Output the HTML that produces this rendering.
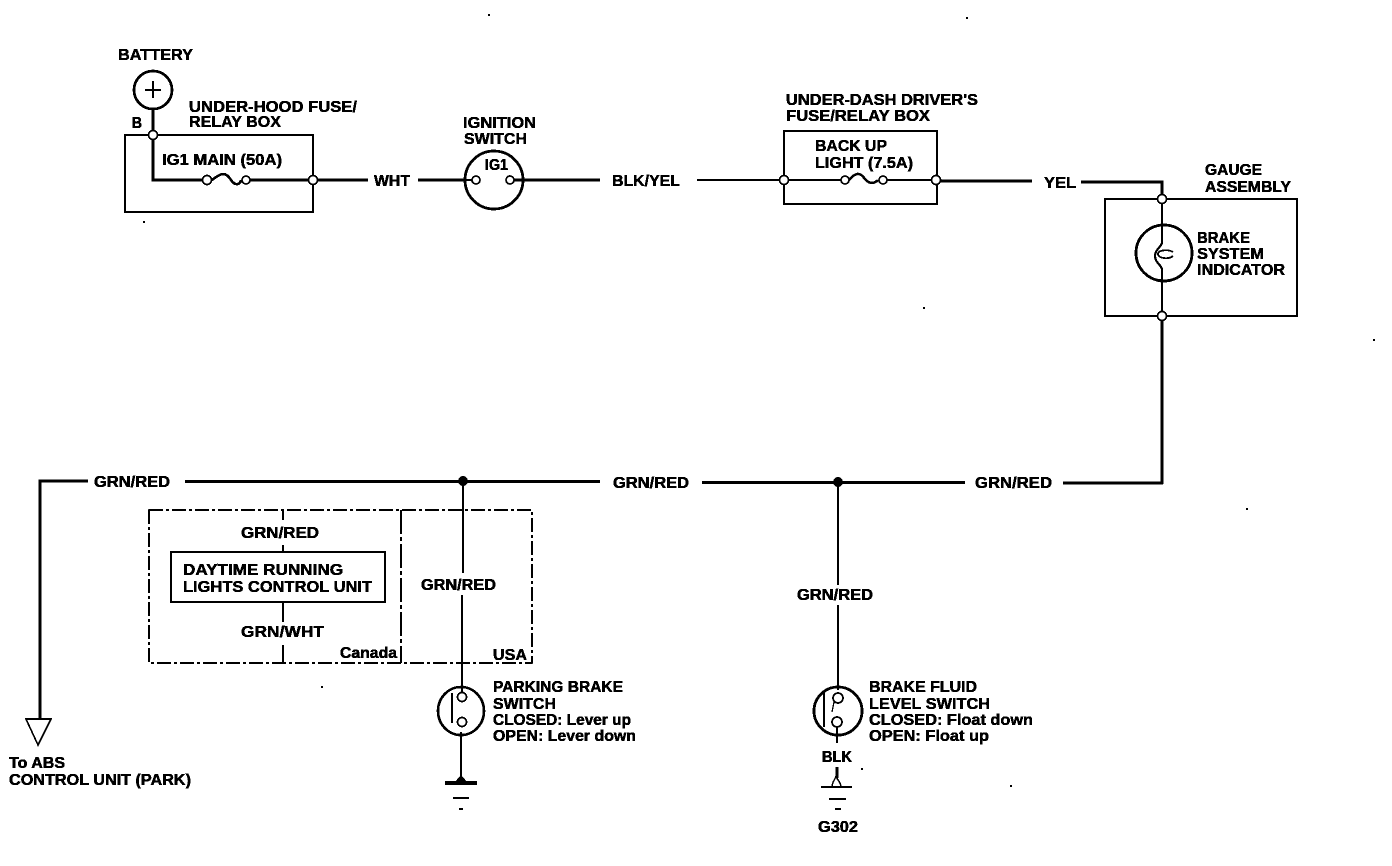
<!DOCTYPE html>
<html><head><meta charset="utf-8">
<style>
html,body{margin:0;padding:0;background:#fff;width:1392px;height:866px;overflow:hidden}
svg{display:block}
text{font-family:"Liberation Sans",sans-serif;font-weight:bold;font-size:16px;fill:#000;stroke:#000;stroke-width:.5px}
</style></head><body>
<svg width="1392" height="866" viewBox="0 0 1392 866" xmlns="http://www.w3.org/2000/svg">
<defs><filter id="t" x="0" y="0" width="1392" height="866" filterUnits="userSpaceOnUse" color-interpolation-filters="sRGB">
<feComponentTransfer><feFuncA type="discrete" tableValues="0 0 1 1"/></feComponentTransfer></filter></defs>
<rect width="1392" height="866" fill="#fff"/>
<g filter="url(#t)">
<g fill="none" stroke="#000" stroke-width="2">
<!-- battery -->
<circle cx="153" cy="90" r="19" stroke-width="2.8"/>
<path d="M153 81V98M145 90H161" stroke-width="1.6"/>
<path d="M153 109V180H205" stroke-width="2.8"/>
<path d="M149 135H125V212H313V135H157" stroke-width="1.8"/>
<path d="M249 180H368M418 180H466" stroke-width="2.8"/>
<path d="M212 180C222 172 226 172 231 180C235 186 240 185 241 180" stroke-width="2.6"/>
<!-- ignition -->
<circle cx="494" cy="180" r="29" stroke-width="2.8"/>
<path d="M513 180H600" stroke-width="3"/>
<path d="M466 180H473" stroke-width="2.4"/>
<!-- under dash -->
<rect x="784" y="131" width="153" height="73" stroke-width="1.8"/>
<path d="M697 180H780M788 180H842M886 180H932" stroke-width="1.8"/>
<path d="M849 180C856 172 860 172 865 179C869 184 874 184 878 180" stroke-width="2.6"/>
<path d="M940 181H1032M1081 182H1162V195" stroke-width="3"/>
<!-- gauge -->
<rect x="1105" y="199" width="192" height="117" stroke-width="1.8"/>
<circle cx="1164" cy="253" r="28" stroke-width="2.8"/>
<path d="M1162 203V242C1162 247 1155 249 1155 256C1155 263 1162 265 1162 270V312" stroke-width="2.2"/>
<path d="M1173 252C1168 249 1158 250 1158 254C1158 258 1168 260 1173 256" stroke-width="1.8"/>
<path d="M1162 320V483H1063" stroke-width="2.6"/>
<!-- main line -->
<path d="M965 482.500H702M600 481.500H185" stroke-width="2.8"/>
<path d="M88 481H40V718" stroke-width="2.8"/>
<path d="M26 719H51L38 745Z" stroke-width="1.6"/>
<!-- options -->
<path d="M149 510H532V663H149Z" stroke-width="1.6" stroke-dasharray="14 3 3 3"/>
<path d="M401 510V663" stroke-width="1.6" stroke-dasharray="24 3 4 3"/>
<rect x="171" y="552" width="214" height="50" stroke-width="2"/>
<path d="M283 510V520M283 545V552M283 602V622M283 645V663" stroke-width="1.6"/>
<path d="M463 481V573M462 595V687" stroke-width="2.4"/>
<!-- parking switch -->
<ellipse cx="461" cy="711" rx="23" ry="24" stroke-width="2.6"/>
<path d="M452 693V723" stroke-width="1.6"/>
<path d="M462 687V692M461 732V780" stroke-width="2.4"/>
<path d="M445 783H477" stroke-width="4"/>
<path d="M453 798H469M459 809H463" stroke-width="1.6"/>
<!-- fluid switch -->
<path d="M838 482V585M838 605V690" stroke-width="2.4"/>
<ellipse cx="838" cy="711" rx="24" ry="24" stroke-width="2.8"/>
<path d="M824 692V727" stroke-width="1.6"/>
<path d="M832 712L834 702" stroke-width="1.2"/>
<path d="M837 728V743" stroke-width="2.4"/>
<path d="M837 767V778" stroke-width="2.8"/>
<path d="M821 787H852" stroke-width="1.8"/>
<path d="M829 799H846M835 809H841" stroke-width="1.6"/>
<path d="M832 787C832 782 835 780 836 776C837 780 841 782 841 787" stroke-width="1.5"/>
</g>
<!-- junctions -->
<g fill="#fff" stroke="#000" stroke-width="1.7">
<circle cx="153" cy="135" r="4.500"/><circle cx="207" cy="180" r="4.500"/><circle cx="246" cy="180" r="4"/><circle cx="313" cy="180" r="4.500"/>
<circle cx="476" cy="180" r="4"/><circle cx="510" cy="180" r="4"/>
<circle cx="784" cy="180" r="4.500"/><circle cx="845" cy="180" r="4"/><circle cx="883" cy="180" r="4"/><circle cx="936" cy="180" r="4.500"/>
<circle cx="1162" cy="199" r="4.500"/><circle cx="1162" cy="316" r="4.500"/>
<circle cx="462" cy="697" r="4.500"/><circle cx="462" cy="722" r="4.500"/>
<circle cx="838" cy="698" r="5"/><circle cx="837" cy="722" r="5"/>
</g>
<g fill="#000">
<circle cx="463" cy="481" r="5"/><circle cx="838" cy="482" r="5"/>
<path d="M455 783Q461 770 467 783Z"/>
<!-- specks -->
<rect x="488" y="14" width="2" height="2"/><rect x="966" y="17" width="2" height="2"/><rect x="923" y="307" width="2" height="2"/><rect x="1373" y="339" width="2" height="2"/><rect x="1246" y="508" width="2" height="2"/><rect x="321" y="686" width="2" height="2"/><rect x="861" y="768" width="2" height="2"/><rect x="1010" y="785" width="2" height="2"/><rect x="143" y="221" width="2" height="2"/>
</g>
<!-- labels -->
<text x="118" y="60" textLength="75" lengthAdjust="spacingAndGlyphs">BATTERY</text>
<text x="189" y="112" textLength="168" lengthAdjust="spacingAndGlyphs">UNDER-HOOD FUSE/</text>
<text x="189" y="127" textLength="92" lengthAdjust="spacingAndGlyphs">RELAY BOX</text>
<text x="132" y="128" textLength="10" lengthAdjust="spacingAndGlyphs">B</text>
<text x="162" y="165" textLength="120" lengthAdjust="spacingAndGlyphs">IG1 MAIN (50A)</text>
<text x="374" y="186" textLength="36" lengthAdjust="spacingAndGlyphs">WHT</text>
<text x="463" y="128" textLength="73" lengthAdjust="spacingAndGlyphs">IGNITION</text>
<text x="464" y="144" textLength="63" lengthAdjust="spacingAndGlyphs">SWITCH</text>
<text x="485" y="170" textLength="23" lengthAdjust="spacingAndGlyphs">IG1</text>
<text x="612" y="186" textLength="68" lengthAdjust="spacingAndGlyphs">BLK/YEL</text>
<text x="786" y="105" textLength="192" lengthAdjust="spacingAndGlyphs">UNDER-DASH DRIVER'S</text>
<text x="786" y="121" textLength="144" lengthAdjust="spacingAndGlyphs">FUSE/RELAY BOX</text>
<text x="815" y="151" textLength="72" lengthAdjust="spacingAndGlyphs">BACK UP</text>
<text x="815" y="168" textLength="98" lengthAdjust="spacingAndGlyphs">LIGHT (7.5A)</text>
<text x="1044" y="188" textLength="32" lengthAdjust="spacingAndGlyphs">YEL</text>
<text x="1205" y="175" textLength="57" lengthAdjust="spacingAndGlyphs">GAUGE</text>
<text x="1205" y="192" textLength="86" lengthAdjust="spacingAndGlyphs">ASSEMBLY</text>
<text x="1197" y="243" textLength="53" lengthAdjust="spacingAndGlyphs">BRAKE</text>
<text x="1197" y="259" textLength="67" lengthAdjust="spacingAndGlyphs">SYSTEM</text>
<text x="1197" y="275" textLength="88" lengthAdjust="spacingAndGlyphs">INDICATOR</text>
<text x="94" y="487" textLength="76" lengthAdjust="spacingAndGlyphs">GRN/RED</text>
<text x="613" y="488" textLength="76" lengthAdjust="spacingAndGlyphs">GRN/RED</text>
<text x="975" y="488" textLength="77" lengthAdjust="spacingAndGlyphs">GRN/RED</text>
<text x="241" y="538" textLength="78" lengthAdjust="spacingAndGlyphs">GRN/RED</text>
<text x="183" y="575" textLength="160" lengthAdjust="spacingAndGlyphs">DAYTIME RUNNING</text>
<text x="183" y="592" textLength="189" lengthAdjust="spacingAndGlyphs">LIGHTS CONTROL UNIT</text>
<text x="241" y="637" textLength="83" lengthAdjust="spacingAndGlyphs">GRN/WHT</text>
<text x="340" y="658" textLength="57" lengthAdjust="spacingAndGlyphs">Canada</text>
<text x="493" y="660" textLength="34" lengthAdjust="spacingAndGlyphs">USA</text>
<text x="421" y="590" textLength="75" lengthAdjust="spacingAndGlyphs">GRN/RED</text>
<text x="797" y="600" textLength="76" lengthAdjust="spacingAndGlyphs">GRN/RED</text>
<text x="493" y="692" textLength="130" lengthAdjust="spacingAndGlyphs">PARKING BRAKE</text>
<text x="493" y="709" textLength="63" lengthAdjust="spacingAndGlyphs">SWITCH</text>
<text x="493" y="725" textLength="138" lengthAdjust="spacingAndGlyphs">CLOSED: Lever up</text>
<text x="493" y="741" textLength="143" lengthAdjust="spacingAndGlyphs">OPEN: Lever down</text>
<text x="869" y="692" textLength="108" lengthAdjust="spacingAndGlyphs">BRAKE FLUID</text>
<text x="869" y="709" textLength="121" lengthAdjust="spacingAndGlyphs">LEVEL SWITCH</text>
<text x="869" y="725" textLength="164" lengthAdjust="spacingAndGlyphs">CLOSED: Float down</text>
<text x="869" y="741" textLength="120" lengthAdjust="spacingAndGlyphs">OPEN: Float up</text>
<text x="9" y="768" textLength="56" lengthAdjust="spacingAndGlyphs">To ABS</text>
<text x="9" y="785" textLength="182" lengthAdjust="spacingAndGlyphs">CONTROL UNIT (PARK)</text>
<text x="822" y="762" textLength="30" lengthAdjust="spacingAndGlyphs">BLK</text>
<text x="818" y="832" textLength="40" lengthAdjust="spacingAndGlyphs">G302</text>
</g>
</svg>
</body></html>
